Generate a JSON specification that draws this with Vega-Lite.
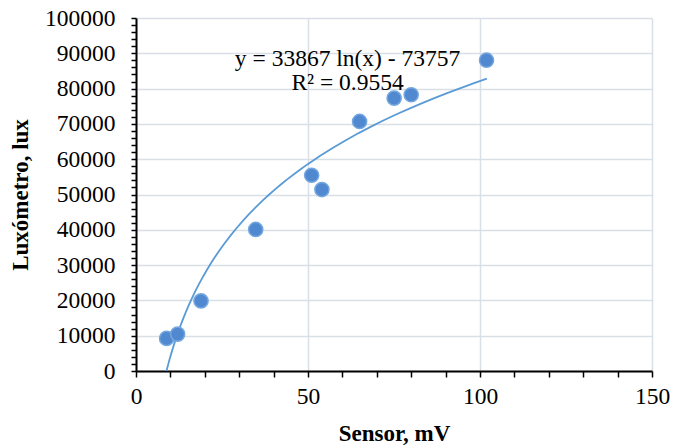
{
  "$schema": "https://vega.github.io/schema/vega-lite/v6.json",
  "width": 516,
  "height": 353,
  "autosize": {"type": "none"},
  "padding": {"left": 136, "top": 18, "right": 21, "bottom": 77},
  "background": "white",
  "config": {
    "view": {"stroke": null},
    "font": "Liberation Serif",
    "axis": {
      "labelFont": "Liberation Serif",
      "titleFont": "Liberation Serif",
      "labelFontSize": 23.5,
      "titleFontSize": 23,
      "titleFontWeight": "bold",
      "labelColor": "#000000",
      "titleColor": "#000000",
      "domainColor": "#000000",
      "domainWidth": 2,
      "tickColor": "#000000",
      "tickWidth": 1.5,
      "gridColor": "#d9dfe7",
      "gridWidth": 1.5
    }
  },
  "data": {
    "values": [
      {"mv": 8.9, "lux": 9240},
      {"mv": 12.1, "lux": 10450},
      {"mv": 18.9, "lux": 19860},
      {"mv": 34.8, "lux": 40100},
      {"mv": 51.06, "lux": 55450},
      {"mv": 54.05, "lux": 51400},
      {"mv": 65.0, "lux": 70700},
      {"mv": 75.05, "lux": 77300},
      {"mv": 80.0, "lux": 78250},
      {"mv": 101.9, "lux": 88050}
    ]
  },
  "encoding": {
    "x": {
      "field": "mv",
      "type": "quantitative",
      "scale": {"domain": [0, 150], "nice": false},
      "axis": {
        "title": "Sensor, mV",
        "values": [0, 10, 20, 30, 40, 50, 60, 70, 80, 90, 100, 110, 120, 130, 140, 150],
        "labelExpr": "datum.value % 50 === 0 ? datum.label : ''",
        "format": "d",
        "tickSize": 6,
        "labelPadding": 7,
        "titlePadding": 15,
        "labelFlush": false,
        "labelOverlap": false,
        "gridOpacity": {"condition": {"test": "datum.value % 50 === 0", "value": 1}, "value": 0}
      }
    },
    "y": {
      "field": "lux",
      "type": "quantitative",
      "scale": {"domain": [0, 100000], "nice": false},
      "axis": {
        "title": "Luxómetro, lux",
        "values": [0, 2000, 4000, 6000, 8000, 10000, 12000, 14000, 16000, 18000, 20000, 22000, 24000, 26000, 28000, 30000, 32000, 34000, 36000, 38000, 40000, 42000, 44000, 46000, 48000, 50000, 52000, 54000, 56000, 58000, 60000, 62000, 64000, 66000, 68000, 70000, 72000, 74000, 76000, 78000, 80000, 82000, 84000, 86000, 88000, 90000, 92000, 94000, 96000, 98000, 100000],
        "labelExpr": "datum.value % 10000 === 0 ? datum.label : ''",
        "format": "d",
        "tickSize": 5,
        "labelPadding": 16,
        "titlePadding": 12,
        "labelFlush": false,
        "labelOverlap": false,
        "gridOpacity": {"condition": {"test": "datum.value % 10000 === 0", "value": 1}, "value": 0}
      }
    }
  },
  "layer": [
    {
      "transform": [
        {"regression": "lux", "on": "mv", "method": "log", "extent": [8.83, 102]}
      ],
      "mark": {"type": "line", "color": "#5b9bd5", "strokeWidth": 1.8, "clip": true}
    },
    {
      "mark": {"type": "circle", "size": 200, "fill": "#5089cf", "stroke": "#74a7df", "strokeWidth": 1.5, "opacity": 1}
    },
    {
      "transform": [{"filter": {"field": "mv", "equal": 8.9}}],
      "mark": {"type": "text", "align": "center", "baseline": "alphabetic", "fontSize": 23.5, "font": "Liberation Serif", "lineHeight": 23.5, "color": "#000000"},
      "encoding": {
        "x": {"datum": 61.5},
        "y": {"datum": 86300},
        "text": {"value": ["y = 33867 ln(x) - 73757", "R² = 0.9554"]}
      }
    }
  ]
}
